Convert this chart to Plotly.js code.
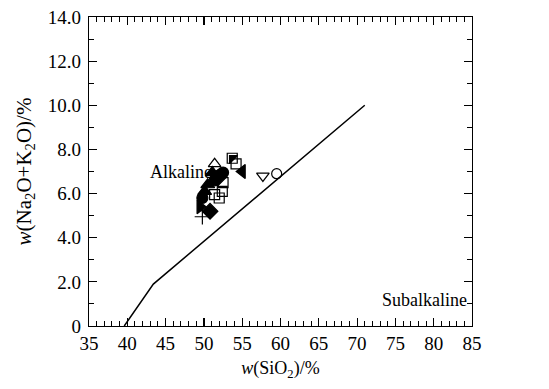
<!DOCTYPE html>
<html>
<head>
<meta charset="utf-8">
<script src="https://cdn.plot.ly/plotly-3.0.1.min.js"></script>
<style>html,body{margin:0;padding:0;background:#fff;}#chart{width:549px;height:389px;}</style>
</head>
<body>
<div id="chart"></div>
<script>
// Boundary line (alkaline / subalkaline)
const boundaryX = [39.6, 43.4, 71.0];
const boundaryY = [0.0, 1.9, 10.0];

// Sample groups (SiO2 %, Na2O+K2O %)
const openTriUpX = [51.4];                      const openTriUpY = [7.35];
const filledCircleX = [52.1, 52.5, 51.4, 49.8]; const filledCircleY = [6.85, 6.95, 6.6, 5.8];
const filledTriUpX = [50.5, 50.1, 51.1];        const filledTriUpY = [6.4, 6.1, 6.95];
const filledDiamondX = [51.8, 50.8];            const filledDiamondY = [6.7, 5.2];
const openSquareX = [51.4, 52.0, 52.4, 52.5, 54.2]; const openSquareY = [5.95, 5.8, 6.1, 6.5, 7.35];
const halfSquareX = [53.7];                     const halfSquareY = [7.6];
const filledTriLeftX = [55.0];                  const filledTriLeftY = [7.0];
const filledTriRightX = [49.5];                 const filledTriRightY = [5.4];
const plusX = [49.8];                           const plusY = [4.95];
const openTriDownX = [57.7];                    const openTriDownY = [6.8];
const openCircleX = [59.5];                     const openCircleY = [6.9];

const xTickVals = [35,40,45,50,55,60,65,70,75,80,85];
const yTickVals = [0,2,4,6,8,10,12,14];
const yTickText = ['0','2.0','4.0','6.0','8.0','10.0','12.0','14.0'];

function pts(x, y, symbol, size, fill) {
  return {x: x, y: y, type: 'scatter', mode: 'markers', showlegend: false,
    marker: {symbol: symbol, size: size, color: fill || 'black',
      line: {color: 'black', width: 1.2}}};
}

const data = [
  {x: boundaryX, y: boundaryY, type: 'scatter', mode: 'lines', showlegend: false,
   line: {color: 'black', width: 1.5}},
  pts(openTriUpX, openTriUpY, 'triangle-up-open', 11),
  pts(openSquareX, openSquareY, 'square-open', 10),
  pts(filledCircleX, filledCircleY, 'circle', 11),
  pts(filledTriUpX, filledTriUpY, 'triangle-up', 12),
  pts(filledDiamondX, filledDiamondY, 'diamond', 12),
  pts(halfSquareX, halfSquareY, 'square-open', 10),
  pts(halfSquareX, halfSquareY, 'triangle-nw', 9),
  pts(filledTriLeftX, filledTriLeftY, 'triangle-left', 12),
  pts(filledTriRightX, filledTriRightY, 'triangle-right', 12),
  pts(plusX, plusY, 'cross-thin-open', 11),
  pts(openTriDownX, openTriDownY, 'triangle-down-open', 11),
  pts(openCircleX, openCircleY, 'circle-open', 10)
];

const fontFam = '"Liberation Serif", "Times New Roman", serif';
const axisCommon = {
  showgrid: false, zeroline: false, showline: true, linecolor: 'black', linewidth: 1.2,
  mirror: 'ticks', ticks: 'inside', ticklen: 8, tickwidth: 1.2, tickcolor: 'black',
  tickfont: {family: fontFam, size: 19, color: 'black'}
};

const layout = {
  width: 549, height: 389,
  margin: {l: 89, r: 77, t: 17, b: 63},
  paper_bgcolor: 'white', plot_bgcolor: 'white',
  font: {family: fontFam, color: 'black'},
  xaxis: Object.assign({}, axisCommon, {
    range: [35, 85], tickmode: 'array', tickvals: xTickVals,
    minor: {dtick: 1, ticks: 'inside', ticklen: 5, tickwidth: 1, tickcolor: 'black'},
    title: {text: '<i>w</i>(SiO<sub>2</sub>)/%', font: {family: fontFam, size: 18}, standoff: 8}
  }),
  yaxis: Object.assign({}, axisCommon, {
    range: [0, 14], tickmode: 'array', tickvals: yTickVals, ticktext: yTickText,
    ticklabelstandoff: 3,
    minor: {dtick: 1, ticks: 'inside', ticklen: 5, tickwidth: 1, tickcolor: 'black'},
    title: {text: '<i>w</i>(Na<sub>2</sub>O+K<sub>2</sub>O)/%', font: {family: fontFam, size: 21}, standoff: 10}
  }),
  annotations: [
    {x: 47.0, y: 7.0, xref: 'x', yref: 'y', text: 'Alkaline', showarrow: false,
     font: {family: fontFam, size: 18, color: 'black'}},
    {x: 78.8, y: 1.2, xref: 'x', yref: 'y', text: 'Subalkaline', showarrow: false,
     font: {family: fontFam, size: 18, color: 'black'}}
  ]
};

Plotly.newPlot('chart', data, layout, {displayModeBar: false, staticPlot: true});
</script>
</body>
</html>
